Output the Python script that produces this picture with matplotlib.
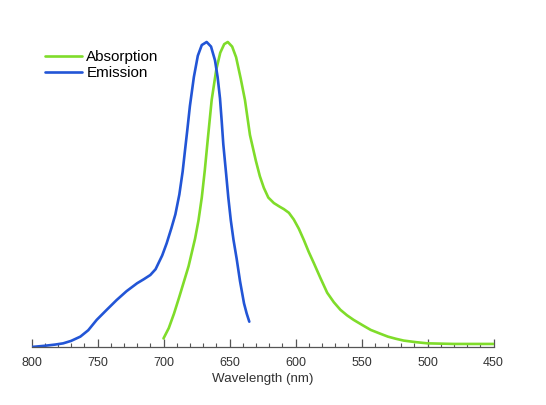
import matplotlib
matplotlib.use("Agg")
import matplotlib.pyplot as plt
from matplotlib.ticker import MultipleLocator

plt.rcParams['font.family'] = ['Liberation Sans', 'DejaVu Sans']

abs_wl = [700, 696, 692, 688, 684, 681, 679.2, 676.1, 673.5, 671, 668.7, 666.5, 663.5, 660, 657, 654, 651.3,
          648, 645, 641.5, 638.3, 634.5, 630, 627, 624, 620.6, 616.4, 612, 608.8, 605, 601.3, 597.5, 593.7,
          590, 586, 581, 576, 571, 566, 561, 556, 549, 543, 536, 530, 524, 518, 509, 500, 490, 480, 465, 450]
abs_int = [0.028, 0.062, 0.11, 0.165, 0.222, 0.265, 0.298, 0.355, 0.415, 0.49, 0.58, 0.679, 0.81, 0.91, 0.965, 0.993,
           1.0, 0.985, 0.95, 0.88, 0.81, 0.695, 0.61, 0.56, 0.522, 0.49, 0.472, 0.46, 0.452, 0.44, 0.418, 0.388,
           0.351, 0.312, 0.274, 0.225, 0.178, 0.147, 0.122, 0.104, 0.089, 0.071, 0.056, 0.044, 0.034, 0.027,
           0.021, 0.016, 0.012, 0.011, 0.01, 0.01, 0.01]

em_wl = [800, 790, 782, 776, 770, 763, 757, 750.6, 743, 735.5, 728, 720, 715, 710, 706, 703.9, 701, 697.6, 694,
         691, 688, 685.5, 683.7, 682, 680, 677, 674, 671, 667.3, 664, 661, 659, 657.2, 655.9, 654.7, 652.5,
         650.9, 649, 647, 644.6, 642, 639, 637, 635]
em_int = [0.0, 0.004, 0.008, 0.012, 0.02, 0.034, 0.055, 0.089, 0.122, 0.154, 0.183, 0.209, 0.222, 0.236, 0.255,
          0.274, 0.3, 0.34, 0.39, 0.435, 0.5, 0.575, 0.645, 0.71, 0.79, 0.885, 0.955, 0.99, 1.0, 0.985, 0.94, 0.885,
          0.815, 0.74, 0.665, 0.565, 0.49, 0.415, 0.352, 0.29, 0.215, 0.143, 0.11, 0.083]

fig = plt.figure(figsize=(5.46, 4.05), dpi=100)
ax = fig.add_axes([31.5/546, (405-347)/405, (493.5-31.5)/546, 1.1*305/405])

ax.plot(abs_wl, abs_int, color='#7fdc2a', lw=1.9, label='Absorption', solid_capstyle='round')
ax.plot(em_wl, em_int, color='#2255d6', lw=1.9, label='Emission', solid_capstyle='round')

ax.set_xlim(800, 450)
ax.set_ylim(0, 1.1)
for s in ['top', 'right', 'left']:
    ax.spines[s].set_visible(False)
ax.spines['bottom'].set_color('#555555')
ax.spines['bottom'].set_linewidth(0.9)
ax.set_yticks([])
ax.xaxis.set_major_locator(MultipleLocator(50))
ax.xaxis.set_minor_locator(MultipleLocator(10))
ax.tick_params(axis='x', which='major', direction='in', length=6, width=0.9, color='#555555',
               labelsize=9, labelcolor='#333333', pad=7)
ax.tick_params(axis='x', which='minor', direction='in', length=3, width=0.8, color='#555555')
ax.set_xlabel('Wavelength (nm)', fontsize=9.6, color='#333333', labelpad=3)

leg = ax.legend(loc='upper left', bbox_to_anchor=(45/546, (405-50)/405), bbox_transform=fig.transFigure,
                frameon=False, fontsize=11, handlelength=2.4, handletextpad=0.3, labelspacing=0.15,
                borderaxespad=0, borderpad=0)

fig.savefig('out.png', dpi=100, facecolor='white')
